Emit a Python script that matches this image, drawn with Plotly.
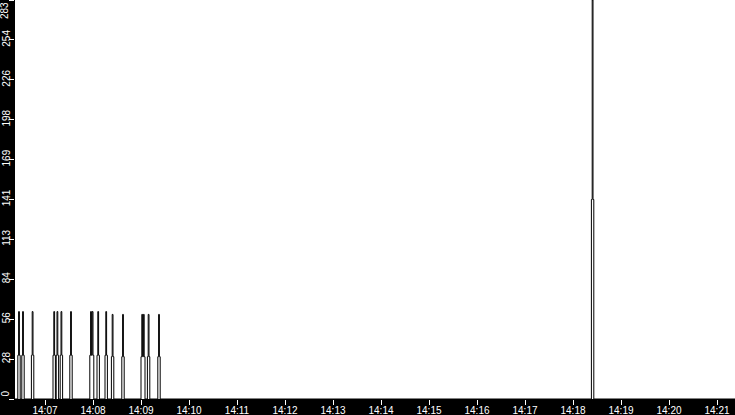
import plotly.graph_objects as go
from datetime import datetime, timedelta

# ---- data ----
base_date = "2024-01-01"
range_start = "14:06:22.5"
range_end = "14:21:22.5"
spike_times = ["14:06:27", "14:06:32", "14:06:44", "14:07:11", "14:07:15", "14:07:20",
               "14:07:32", "14:07:57", "14:07:59", "14:08:06", "14:08:16", "14:08:24",
               "14:08:37", "14:09:01", "14:09:03", "14:09:09", "14:09:22", "14:18:24"]
spike_peaks = [62, 62, 62, 62, 62, 62, 62, 62, 62, 62, 62, 60, 60, 60, 60, 60, 60, 283]
spike_halves = [31, 31, 31, 31, 31, 31, 31, 31, 31, 31, 31, 30, 30, 30, 30, 30, 30, 141.5]
y_tick_vals = [0, 28.3, 56.6, 84.9, 113.2, 141.5, 169.8, 198.1, 226.4, 254.7, 283]
y_tick_text = ["", "28", "56", "84", "113", "141", "169", "198", "226", "254", ""]
y_max = 283

# ---- build per-second samples (zero between pulses) ----
def ts(s):
    return datetime.fromisoformat(f"{base_date} {s}")

samples = {}
for t, p, h in zip(spike_times, spike_peaks, spike_halves):
    t0 = ts(t)
    for off, v in ((-1, h), (0, p), (1, h), (2, 0)):
        k = t0 + timedelta(seconds=off)
        samples[k] = max(samples.get(k, 0), v)
samples.setdefault(ts(range_start), 0)
samples.setdefault(ts(range_end), 0)
xs = sorted(samples)
ys = [samples[k] for k in xs]

fig = go.Figure()
fig.add_trace(go.Scatter(x=xs, y=ys, mode="lines", line_shape="hv",
                         line=dict(color="black", width=1), hoverinfo="skip"))

font = dict(family="Liberation Sans", size=10, color="white")
fig.update_layout(
    template="none",
    width=735, height=415,
    margin=dict(l=15, r=0, t=0, b=16, pad=0),
    paper_bgcolor="black", plot_bgcolor="white",
    showlegend=False,
    font=font,
    xaxis=dict(range=[ts(range_start), ts(range_end)], type="date",
               dtick=60000, tick0=f"{base_date} 14:07:00", tickformat="%H:%M",
               ticks="outside", ticklen=5, tickcolor="white", tickwidth=1,
               ticklabelstandoff=-3, automargin=False,
               showgrid=False, zeroline=False, showline=False, tickfont=font),
    yaxis=dict(range=[0, y_max], tickvals=y_tick_vals, ticktext=y_tick_text,
               tickangle=-90, ticks="outside", ticklen=5, tickcolor="white",
               tickwidth=1, showgrid=False, zeroline=False, showline=False,
               ticklabelstandoff=-5, automargin=False, tickfont=font),
)
fig.add_annotation(text=str(y_max), xref="paper", yref="paper", x=0, y=1,
                   xanchor="center", yanchor="top", xshift=-10.5, textangle=-90,
                   showarrow=False, font=font)
fig.add_annotation(text="0", xref="paper", yref="paper", x=0, y=0,
                   xanchor="center", yanchor="bottom", xshift=-10.5, textangle=-90,
                   showarrow=False, font=font)
fig.write_html("out.html", config={"displayModeBar": False, "staticPlot": True},
               post_script="document.body.style.margin='0';")
